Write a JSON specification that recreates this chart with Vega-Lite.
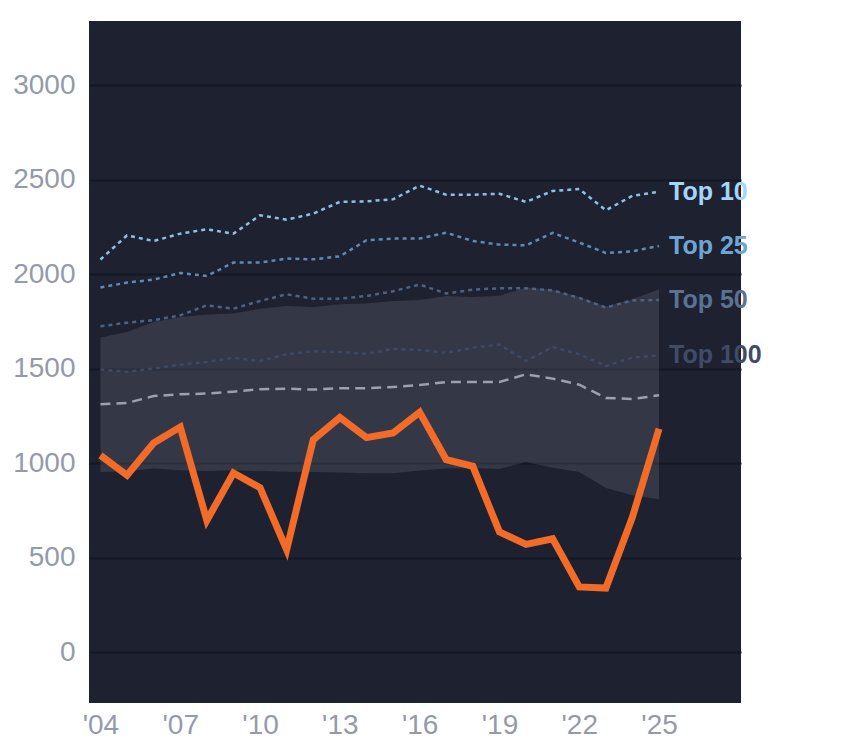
{
  "$schema": "https://vega.github.io/schema/vega-lite/v6.json",
  "width": 652,
  "height": 682,
  "autosize": "none",
  "padding": {"left": 89, "top": 21, "right": 103, "bottom": 45},
  "background": "white",
  "view": {"fill": "#1d2130", "stroke": null},
  "config": {
    "font": "Liberation Sans",
    "axis": {"labelFont": "Liberation Sans", "labelFontSize": 28, "labelColor": "#939bab", "domain": false, "ticks": false, "title": null}
  },
  "datasets": {
    "band": [
      {"year": 2004, "lo": 954, "hi": 1665},
      {"year": 2005, "lo": 958, "hi": 1695},
      {"year": 2006, "lo": 972, "hi": 1748},
      {"year": 2007, "lo": 963, "hi": 1774},
      {"year": 2008, "lo": 959, "hi": 1787},
      {"year": 2009, "lo": 963, "hi": 1792},
      {"year": 2010, "lo": 959, "hi": 1818},
      {"year": 2011, "lo": 956, "hi": 1832},
      {"year": 2012, "lo": 954, "hi": 1827},
      {"year": 2013, "lo": 951, "hi": 1841},
      {"year": 2014, "lo": 947, "hi": 1845},
      {"year": 2015, "lo": 947, "hi": 1859},
      {"year": 2016, "lo": 962, "hi": 1864},
      {"year": 2017, "lo": 972, "hi": 1885},
      {"year": 2018, "lo": 975, "hi": 1880},
      {"year": 2019, "lo": 970, "hi": 1887},
      {"year": 2020, "lo": 1007, "hi": 1930},
      {"year": 2021, "lo": 977, "hi": 1918},
      {"year": 2022, "lo": 954, "hi": 1880},
      {"year": 2023, "lo": 869, "hi": 1830},
      {"year": 2024, "lo": 831, "hi": 1868},
      {"year": 2025, "lo": 810, "hi": 1921}
    ],
    "tiers": [
      {"year": 2004, "series": "Top 10", "value": 2078},
      {"year": 2005, "series": "Top 10", "value": 2206},
      {"year": 2006, "series": "Top 10", "value": 2176},
      {"year": 2007, "series": "Top 10", "value": 2215},
      {"year": 2008, "series": "Top 10", "value": 2238},
      {"year": 2009, "series": "Top 10", "value": 2215},
      {"year": 2010, "series": "Top 10", "value": 2312},
      {"year": 2011, "series": "Top 10", "value": 2289},
      {"year": 2012, "series": "Top 10", "value": 2321},
      {"year": 2013, "series": "Top 10", "value": 2383},
      {"year": 2014, "series": "Top 10", "value": 2386},
      {"year": 2015, "series": "Top 10", "value": 2397},
      {"year": 2016, "series": "Top 10", "value": 2469},
      {"year": 2017, "series": "Top 10", "value": 2421},
      {"year": 2018, "series": "Top 10", "value": 2421},
      {"year": 2019, "series": "Top 10", "value": 2426},
      {"year": 2020, "series": "Top 10", "value": 2383},
      {"year": 2021, "series": "Top 10", "value": 2441},
      {"year": 2022, "series": "Top 10", "value": 2451},
      {"year": 2023, "series": "Top 10", "value": 2339},
      {"year": 2024, "series": "Top 10", "value": 2415},
      {"year": 2025, "series": "Top 10", "value": 2437},
      {"year": 2004, "series": "Top 25", "value": 1930},
      {"year": 2005, "series": "Top 25", "value": 1956},
      {"year": 2006, "series": "Top 25", "value": 1972},
      {"year": 2007, "series": "Top 25", "value": 2007},
      {"year": 2008, "series": "Top 25", "value": 1991},
      {"year": 2009, "series": "Top 25", "value": 2062},
      {"year": 2010, "series": "Top 25", "value": 2062},
      {"year": 2011, "series": "Top 25", "value": 2083},
      {"year": 2012, "series": "Top 25", "value": 2079},
      {"year": 2013, "series": "Top 25", "value": 2095},
      {"year": 2014, "series": "Top 25", "value": 2180},
      {"year": 2015, "series": "Top 25", "value": 2189},
      {"year": 2016, "series": "Top 25", "value": 2189},
      {"year": 2017, "series": "Top 25", "value": 2220},
      {"year": 2018, "series": "Top 25", "value": 2176},
      {"year": 2019, "series": "Top 25", "value": 2157},
      {"year": 2020, "series": "Top 25", "value": 2153},
      {"year": 2021, "series": "Top 25", "value": 2219},
      {"year": 2022, "series": "Top 25", "value": 2168},
      {"year": 2023, "series": "Top 25", "value": 2113},
      {"year": 2024, "series": "Top 25", "value": 2122},
      {"year": 2025, "series": "Top 25", "value": 2150},
      {"year": 2004, "series": "Top 50", "value": 1725},
      {"year": 2005, "series": "Top 50", "value": 1744},
      {"year": 2006, "series": "Top 50", "value": 1757},
      {"year": 2007, "series": "Top 50", "value": 1783},
      {"year": 2008, "series": "Top 50", "value": 1836},
      {"year": 2009, "series": "Top 50", "value": 1818},
      {"year": 2010, "series": "Top 50", "value": 1859},
      {"year": 2011, "series": "Top 50", "value": 1894},
      {"year": 2012, "series": "Top 50", "value": 1871},
      {"year": 2013, "series": "Top 50", "value": 1871},
      {"year": 2014, "series": "Top 50", "value": 1885},
      {"year": 2015, "series": "Top 50", "value": 1910},
      {"year": 2016, "series": "Top 50", "value": 1946},
      {"year": 2017, "series": "Top 50", "value": 1898},
      {"year": 2018, "series": "Top 50", "value": 1919},
      {"year": 2019, "series": "Top 50", "value": 1926},
      {"year": 2020, "series": "Top 50", "value": 1926},
      {"year": 2021, "series": "Top 50", "value": 1915},
      {"year": 2022, "series": "Top 50", "value": 1875},
      {"year": 2023, "series": "Top 50", "value": 1824},
      {"year": 2024, "series": "Top 50", "value": 1862},
      {"year": 2025, "series": "Top 50", "value": 1864},
      {"year": 2004, "series": "Top 100", "value": 1497},
      {"year": 2005, "series": "Top 100", "value": 1483},
      {"year": 2006, "series": "Top 100", "value": 1501},
      {"year": 2007, "series": "Top 100", "value": 1522},
      {"year": 2008, "series": "Top 100", "value": 1536},
      {"year": 2009, "series": "Top 100", "value": 1559},
      {"year": 2010, "series": "Top 100", "value": 1541},
      {"year": 2011, "series": "Top 100", "value": 1577},
      {"year": 2012, "series": "Top 100", "value": 1593},
      {"year": 2013, "series": "Top 100", "value": 1589},
      {"year": 2014, "series": "Top 100", "value": 1580},
      {"year": 2015, "series": "Top 100", "value": 1605},
      {"year": 2016, "series": "Top 100", "value": 1600},
      {"year": 2017, "series": "Top 100", "value": 1584},
      {"year": 2018, "series": "Top 100", "value": 1612},
      {"year": 2019, "series": "Top 100", "value": 1628},
      {"year": 2020, "series": "Top 100", "value": 1541},
      {"year": 2021, "series": "Top 100", "value": 1615},
      {"year": 2022, "series": "Top 100", "value": 1577},
      {"year": 2023, "series": "Top 100", "value": 1515},
      {"year": 2024, "series": "Top 100", "value": 1559},
      {"year": 2025, "series": "Top 100", "value": 1571},
      {"year": 2004, "series": "Median", "value": 1312},
      {"year": 2005, "series": "Median", "value": 1319},
      {"year": 2006, "series": "Median", "value": 1356},
      {"year": 2007, "series": "Median", "value": 1365},
      {"year": 2008, "series": "Median", "value": 1369},
      {"year": 2009, "series": "Median", "value": 1379},
      {"year": 2010, "series": "Median", "value": 1392},
      {"year": 2011, "series": "Median", "value": 1395},
      {"year": 2012, "series": "Median", "value": 1390},
      {"year": 2013, "series": "Median", "value": 1397},
      {"year": 2014, "series": "Median", "value": 1397},
      {"year": 2015, "series": "Median", "value": 1404},
      {"year": 2016, "series": "Median", "value": 1414},
      {"year": 2017, "series": "Median", "value": 1430},
      {"year": 2018, "series": "Median", "value": 1430},
      {"year": 2019, "series": "Median", "value": 1430},
      {"year": 2020, "series": "Median", "value": 1471},
      {"year": 2021, "series": "Median", "value": 1448},
      {"year": 2022, "series": "Median", "value": 1416},
      {"year": 2023, "series": "Median", "value": 1346},
      {"year": 2024, "series": "Median", "value": 1340},
      {"year": 2025, "series": "Median", "value": 1360}
    ],
    "team": [
      {"year": 2004, "value": 1042},
      {"year": 2005, "value": 937},
      {"year": 2006, "value": 1108},
      {"year": 2007, "value": 1192},
      {"year": 2008, "value": 698},
      {"year": 2009, "value": 949},
      {"year": 2010, "value": 871},
      {"year": 2011, "value": 543},
      {"year": 2012, "value": 1125},
      {"year": 2013, "value": 1242},
      {"year": 2014, "value": 1136},
      {"year": 2015, "value": 1160},
      {"year": 2016, "value": 1270},
      {"year": 2017, "value": 1019},
      {"year": 2018, "value": 984},
      {"year": 2019, "value": 637},
      {"year": 2020, "value": 571},
      {"year": 2021, "value": 601},
      {"year": 2022, "value": 346},
      {"year": 2023, "value": 340},
      {"year": 2024, "value": 716},
      {"year": 2025, "value": 1183}
    ],
    "labels": [
      {"year": 2025, "series": "Top 10", "value": 2437},
      {"year": 2025, "series": "Top 25", "value": 2150},
      {"year": 2025, "series": "Top 50", "value": 1864},
      {"year": 2025, "series": "Top 100", "value": 1571}
    ]
  },
  "encoding": {
    "x": {
      "field": "year",
      "type": "quantitative",
      "scale": {"domain": [2003.57, 2028.08], "nice": false, "zero": false},
      "axis": {
        "values": [2004, 2007, 2010, 2013, 2016, 2019, 2022, 2025],
        "labelExpr": "\"'\" + slice(toString(datum.value), 2)",
        "grid": false,
        "labelPadding": 8
      }
    }
  },
  "layer": [
    {
      "data": {"name": "band"},
      "mark": {"type": "area", "fill": "#8a90a0", "opacity": 0.2},
      "encoding": {
        "y": {
          "field": "hi",
          "type": "quantitative",
          "scale": {"domain": [-268, 3340], "nice": false, "zero": false},
          "axis": {
            "values": [0, 500, 1000, 1500, 2000, 2500, 3000],
            "format": "d",
            "grid": true,
            "gridColor": "#141822",
            "gridWidth": 2,
            "labelPadding": 14
          }
        },
        "y2": {"field": "lo"}
      }
    },
    {
      "data": {"name": "tiers"},
      "mark": {"type": "line", "strokeWidth": 2.5},
      "encoding": {
        "y": {"field": "value", "type": "quantitative"},
        "color": {
          "field": "series",
          "type": "nominal",
          "scale": {
            "domain": ["Top 10", "Top 25", "Top 50", "Top 100", "Median"],
            "range": ["#8ec0e2", "#5f8ab3", "#4c6282", "#3c4963", "#9ba1ad"]
          },
          "legend": null
        },
        "strokeDash": {
          "field": "series",
          "type": "nominal",
          "scale": {
            "domain": ["Top 10", "Top 25", "Top 50", "Top 100", "Median"],
            "range": [[4, 4], [4, 4], [4, 4], [4, 4], [10, 6]]
          },
          "legend": null
        }
      }
    },
    {
      "data": {"name": "team"},
      "mark": {"type": "line", "color": "#f26b29", "strokeWidth": 7},
      "encoding": {
        "y": {"field": "value", "type": "quantitative"}
      }
    },
    {
      "data": {"name": "labels"},
      "mark": {"type": "text", "align": "left", "baseline": "middle", "dx": 10, "fontSize": 25, "fontWeight": "bold", "font": "Liberation Sans"},
      "encoding": {
        "y": {"field": "value", "type": "quantitative"},
        "text": {"field": "series"},
        "color": {
          "field": "series",
          "type": "nominal",
          "scale": {
            "domain": ["Top 10", "Top 25", "Top 50", "Top 100"],
            "range": ["#a6d5f7", "#6fa5d4", "#5b7290", "#404c66"]
          },
          "legend": null
        }
      }
    }
  ],
  "resolve": {"scale": {"color": "independent"}}
}
